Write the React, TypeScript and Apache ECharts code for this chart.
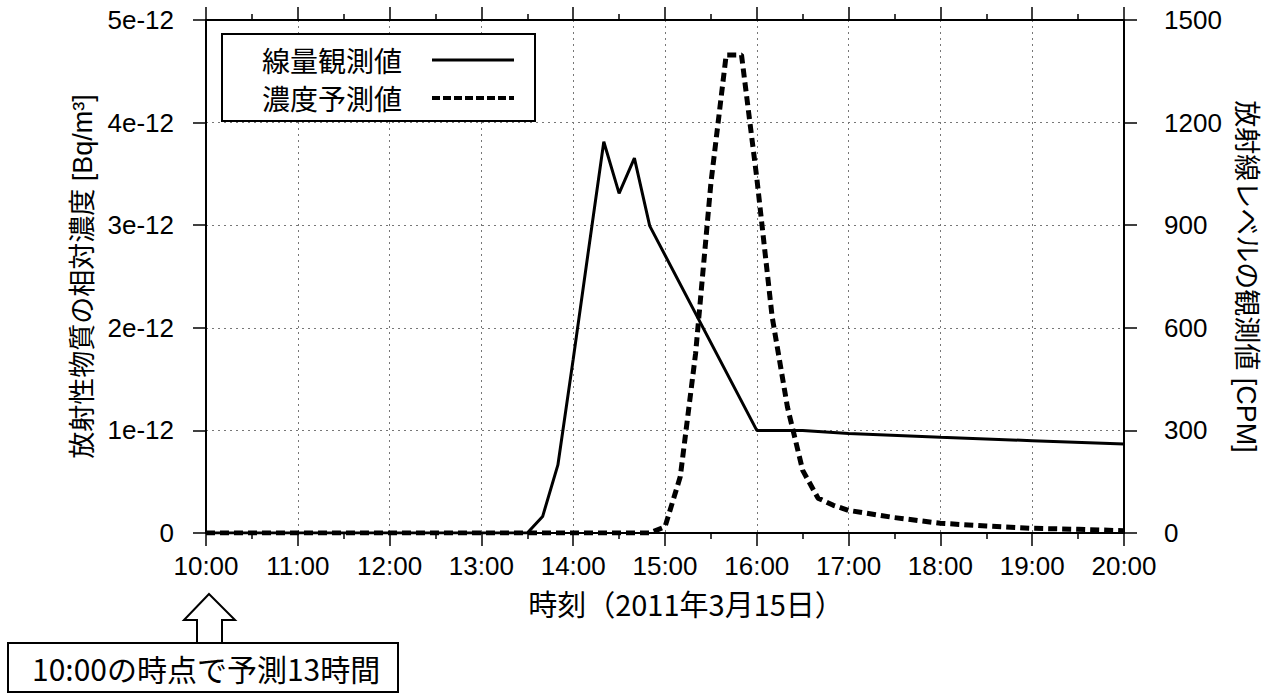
import React, { useEffect, useRef } from "react";
import * as echarts from "echarts";

// x axis: hours of 2011-03-15
const hourTicks = [10, 11, 12, 13, 14, 15, 16, 17, 18, 19, 20];

// Observed dose level [CPM] (solid, right axis)
const obsTimes = ["10:00", "13:30", "13:40", "13:50", "14:00", "14:10", "14:20", "14:30", "14:40", "14:50", "16:00", "16:30", "17:00", "18:00", "19:00", "20:00"];
const obsCpm = [0, 0, 48, 199, 508, 827, 1144, 993, 1096, 898, 300, 300, 291, 280, 270, 260];

// Predicted relative concentration [Bq/m3] (dashed, left axis)
const predTimes = ["10:00", "14:50", "15:00", "15:10", "15:20", "15:30", "15:40", "15:50", "16:00", "16:10", "16:20", "16:30", "16:40", "16:50", "17:00", "17:30", "18:00", "18:30", "19:00", "19:30", "20:00"];
const predConc = [0, 0, 0.06e-12, 0.55e-12, 1.75e-12, 3.41e-12, 4.66e-12, 4.66e-12, 3.46e-12, 2.11e-12, 1.23e-12, 0.61e-12, 0.34e-12, 0.27e-12, 0.22e-12, 0.15e-12, 0.095e-12, 0.068e-12, 0.046e-12, 0.036e-12, 0.022e-12];

const leftTicksMax = 5e-12;
const rightTicksMax = 1500;

const toHour = (t: string) => {
  const [h, m] = t.split(":").map(Number);
  return h + m / 60;
};

const LATIN = "'Liberation Sans', Arial, 'Noto Sans CJK JP', sans-serif";
const CJK = "'Noto Sans CJK JP', 'Liberation Sans', sans-serif";

export default function App() {
  const ref = useRef<HTMLDivElement>(null);
  useEffect(() => {
    if (!ref.current) return;
    const chart = echarts.init(ref.current, undefined, { renderer: "svg" });
    const axisLine = { show: true, onZero: false, lineStyle: { color: "#000", width: 2 } };
    const tick = { show: true, inside: false, length: 13, lineStyle: { color: "#000", width: 1.5 } };
    const minor = { show: true, splitNumber: 2, length: 6, lineStyle: { color: "#000", width: 1.5 } };
    const grid = { show: true, lineStyle: { color: "#777", width: 1, type: [2, 4] as any } };
    chart.setOption({
      animation: false,
      backgroundColor: "#fff",
      grid: { left: 206, right: 148, top: 20, bottom: 162 },
      legend: {
        data: [
          { name: "線量観測値", lineStyle: { width: 3, type: "solid" } },
          { name: "濃度予測値", lineStyle: { width: 4, type: [8, 3] } },
        ],
        orient: "vertical",
        left: 222,
        top: 34,
        align: "right",
        itemWidth: 82,
        itemHeight: 28,
        itemGap: 10,
        padding: [12, 19, 9, 40],
        borderColor: "#000",
        borderWidth: 2,
        backgroundColor: "#fff",
        itemStyle: { opacity: 0 },
        textStyle: { fontFamily: CJK, fontSize: 28, color: "#000", padding: [0, 25, 0, 0] },
      },
      xAxis: [
        {
          type: "value",
          min: hourTicks[0],
          max: hourTicks[hourTicks.length - 1],
          interval: 1,
          position: "bottom",
          axisLine,
          axisTick: tick,
          minorTick: minor,
          splitLine: grid,
          axisLabel: {
            margin: 20,
            fontFamily: LATIN,
            fontSize: 26,
            color: "#000",
            formatter: (v: number) => `${v}:00`,
          },
          name: "時刻（2011年3月15日）",
          nameLocation: "middle",
          nameGap: 55,
          nameTextStyle: { fontFamily: CJK, fontSize: 29, color: "#000", padding: [0, 0, 0, 42] },
        },
        {
          type: "value",
          min: hourTicks[0],
          max: hourTicks[hourTicks.length - 1],
          interval: 1,
          position: "top",
          axisLine,
          axisTick: tick,
          minorTick: minor,
          splitLine: { show: false },
          axisLabel: { show: false },
        },
      ],
      yAxis: [
        {
          type: "value",
          min: 0,
          max: leftTicksMax,
          interval: 1e-12,
          position: "left",
          axisLine,
          axisTick: tick,
          splitLine: grid,
          axisLabel: {
            margin: 32,
            fontFamily: LATIN,
            fontSize: 26,
            color: "#000",
            formatter: (v: number) => (v === 0 ? "0" : `${Math.round(v * 1e12)}e-12`),
          },
          name: "放射性物質の相対濃度 [Bq/m³]",
          nameLocation: "middle",
          nameRotate: 90,
          nameGap: 64,
          nameTextStyle: { fontFamily: LATIN, fontSize: 27, color: "#000" },
        },
        {
          type: "value",
          min: 0,
          max: rightTicksMax,
          interval: 300,
          position: "right",
          axisLine,
          axisTick: tick,
          splitLine: { show: false },
          axisLabel: {
            margin: 40,
            fontFamily: LATIN,
            fontSize: 26,
            color: "#000",
            formatter: (v: number) => String(v),
          },
          name: "放射線レベルの観測値 [CPM]",
          nameLocation: "middle",
          nameRotate: -90,
          nameGap: 108,
          nameTextStyle: { fontFamily: LATIN, fontSize: 27, color: "#000" },
        },
      ],
      series: [
        {
          name: "線量観測値",
          type: "line",
          xAxisIndex: 0,
          yAxisIndex: 1,
          symbol: "none",
          data: obsTimes.map((t, i) => [toHour(t), obsCpm[i]]),
          lineStyle: { color: "#000", width: 3 },
          itemStyle: { color: "#000" },
        },
        {
          name: "濃度予測値",
          type: "line",
          xAxisIndex: 0,
          yAxisIndex: 0,
          symbol: "none",
          data: predTimes.map((t, i) => [toHour(t), predConc[i]]),
          lineStyle: { color: "#000", width: 5, type: [9, 5] },
          itemStyle: { color: "#000" },
        },
      ],
      graphic: [
        {
          type: "polygon",
          shape: {
            points: [
              [209, 594],
              [235, 620],
              [222, 620],
              [222, 643],
              [197, 643],
              [197, 620],
              [184, 620],
            ],
          },
          style: { fill: "#fff", stroke: "#000", lineWidth: 2 },
          z: 10,
        },
        {
          type: "rect",
          shape: { x: 8, y: 643, width: 390, height: 49 },
          style: { fill: "#fff", stroke: "#000", lineWidth: 2 },
          z: 10,
        },
        {
          type: "text",
          x: 32,
          y: 668,
          style: {
            text: "10:00の時点で予測13時間",
            fontFamily: CJK,
            fontSize: 30,
            fill: "#000",
            verticalAlign: "middle",
          },
          z: 11,
        },
      ],
    });
    return () => chart.dispose();
  }, []);
  return (
    <div
      ref={ref}
      style={{ position: "fixed", left: 0, top: 0, width: 1272, height: 695, background: "#fff" }}
    />
  );
}
